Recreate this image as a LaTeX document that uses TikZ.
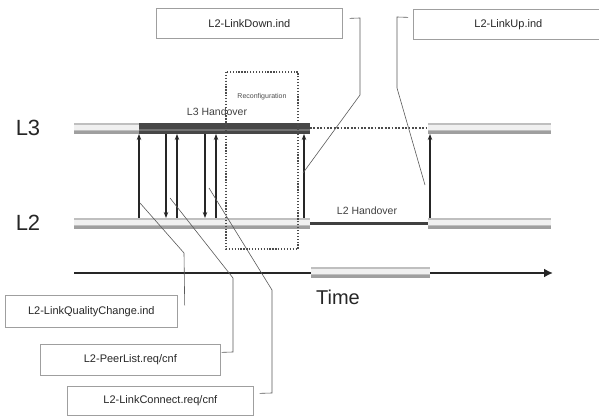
\documentclass[tikz,border=0pt]{standalone}
\usepackage{fontspec}
\setmainfont{Liberation Sans}
\usetikzlibrary{arrows.meta}
\begin{document}
\begin{tikzpicture}[x=1pt,y=-1pt,
  lbox/.style={draw=gray!75, line width=0.7pt, minimum height=30, inner sep=0pt,
    anchor=north west, font=\fontsize{11}{13}\selectfont, text=black!85},
  conn/.style={draw=gray!70!black, line width=0.6pt},
  msg/.style={line width=1.4pt, draw=black!85, -{Stealth[length=6pt,width=4.5pt]}},
  barbase/.style={fill=gray!50},
  barlight/.style={fill=gray!12},
  bardark/.style={fill=gray!75},
  darkbar/.style={fill=black!72},
  axisline/.style={line width=2.6pt, black!85},
  dotline/.style={line width=1.7pt, black!70, dash pattern=on 1.7pt off 1.7pt},
  bigtext/.style={font=\fontsize{22}{24}\selectfont, text=black!85},
  small/.style={font=\fontsize{10.5}{12}\selectfont, text=black!75},
]
\useasboundingbox (0,0) rectangle (599,419);

% time axis lines (drawn below the gray segment)
\coordinate (t0) at (74,273);
\coordinate (t1) at (553,273);
\draw[axisline] (t0) -- (312,273);
\draw[axisline, -{Latex[length=9pt,width=9pt]}] (429,273) -- (t1);

% layer bars (gray, textured look)
\foreach \xa/\xb/\yc in {74/139/128.5, 428/551/128.5, 74/310/224, 428/551/224, 311/430/273}{
  \path[barbase] (\xa,\yc-5.5) rectangle (\xb,\yc+5.5);
  \path[barlight] (\xa,\yc-3.5) rectangle (\xb,\yc+1.5);
  \path[bardark] (\xa,\yc+2.5) rectangle (\xb,\yc+5.5);
}
\path[darkbar] (139,123) rectangle (310,134);
\path[fill=black!55] (139,129) rectangle (310,131);
\draw[line width=3pt, black!75] (310,224) -- (428,224);
\draw[dotline] (310,128) -- (428,128);

% layer labels
\node[bigtext] (l3) at (28,128) {L3};
\node[bigtext] (l2) at (28,223) {L2};
\node[font=\fontsize{20}{22}\selectfont, text=black!85] (time) at (338,297) {Time};
\node[small] (l3h) at (217,112) {L3 Handover};
\node[small] (l2h) at (367,211) {L2 Handover};

% reconfiguration box
\draw[line width=1.3pt, black!70, dash pattern=on 1.3pt off 1.6pt] (226,72) rectangle (298,249);
\node[font=\fontsize{7}{8}\selectfont, text=black!70] (reconf) at (262,97) {Reconfiguration};

% message arrows
\foreach \x/\n in {139/a, 177/c, 216/e, 304/f, 430/g}
  \draw[msg] (\x,218) coordinate (\n b) -- (\x,134) coordinate (\n t);
\foreach \x/\n in {166/b, 205/d}
  \draw[msg] (\x,134) coordinate (\n t) -- (\x,218) coordinate (\n b);

% primitive boxes
\node[lbox, minimum width=186] (down) at (156,8) {L2-LinkDown.ind};
\node[lbox, minimum width=190] (up) at (413,9) {L2-LinkUp.ind};
\node[lbox, minimum width=172, minimum height=32] (qc) at (5,295) {L2-LinkQualityChange.ind};
\node[lbox, minimum width=180, minimum height=31] (pl) at (40,344) {L2-PeerList.req/cnf};
\node[lbox, minimum width=186, minimum height=29] (lc) at (67,386) {L2-LinkConnect.req/cnf};

% connector points
\coordinate (hdown) at (303,173);
\coordinate (hup) at (425,185);
\coordinate (hqc) at (140,203);
\coordinate (hpl) at (170,198);
\coordinate (hlc) at (209,188);

\draw[conn] ([shift={(7,-5)}]down.east) -- (360,18) -- (360,95) -- (hdown);
\draw[conn] ([shift={(-5,-7)}]up.west) -- (397,17) -- (397,88) -- (hup);
\draw[conn] ([shift={(7,-6)}]qc.east) -- (184,253) -- (hqc);
\draw[conn] ([shift={(1,-7.5)}]pl.east) -- (233,352) -- (233,278) -- (hpl);
\draw[conn] ([shift={(6,-7.5)}]lc.east) -- (272,393) -- (272,290) -- (hlc);
\end{tikzpicture}
\end{document}
